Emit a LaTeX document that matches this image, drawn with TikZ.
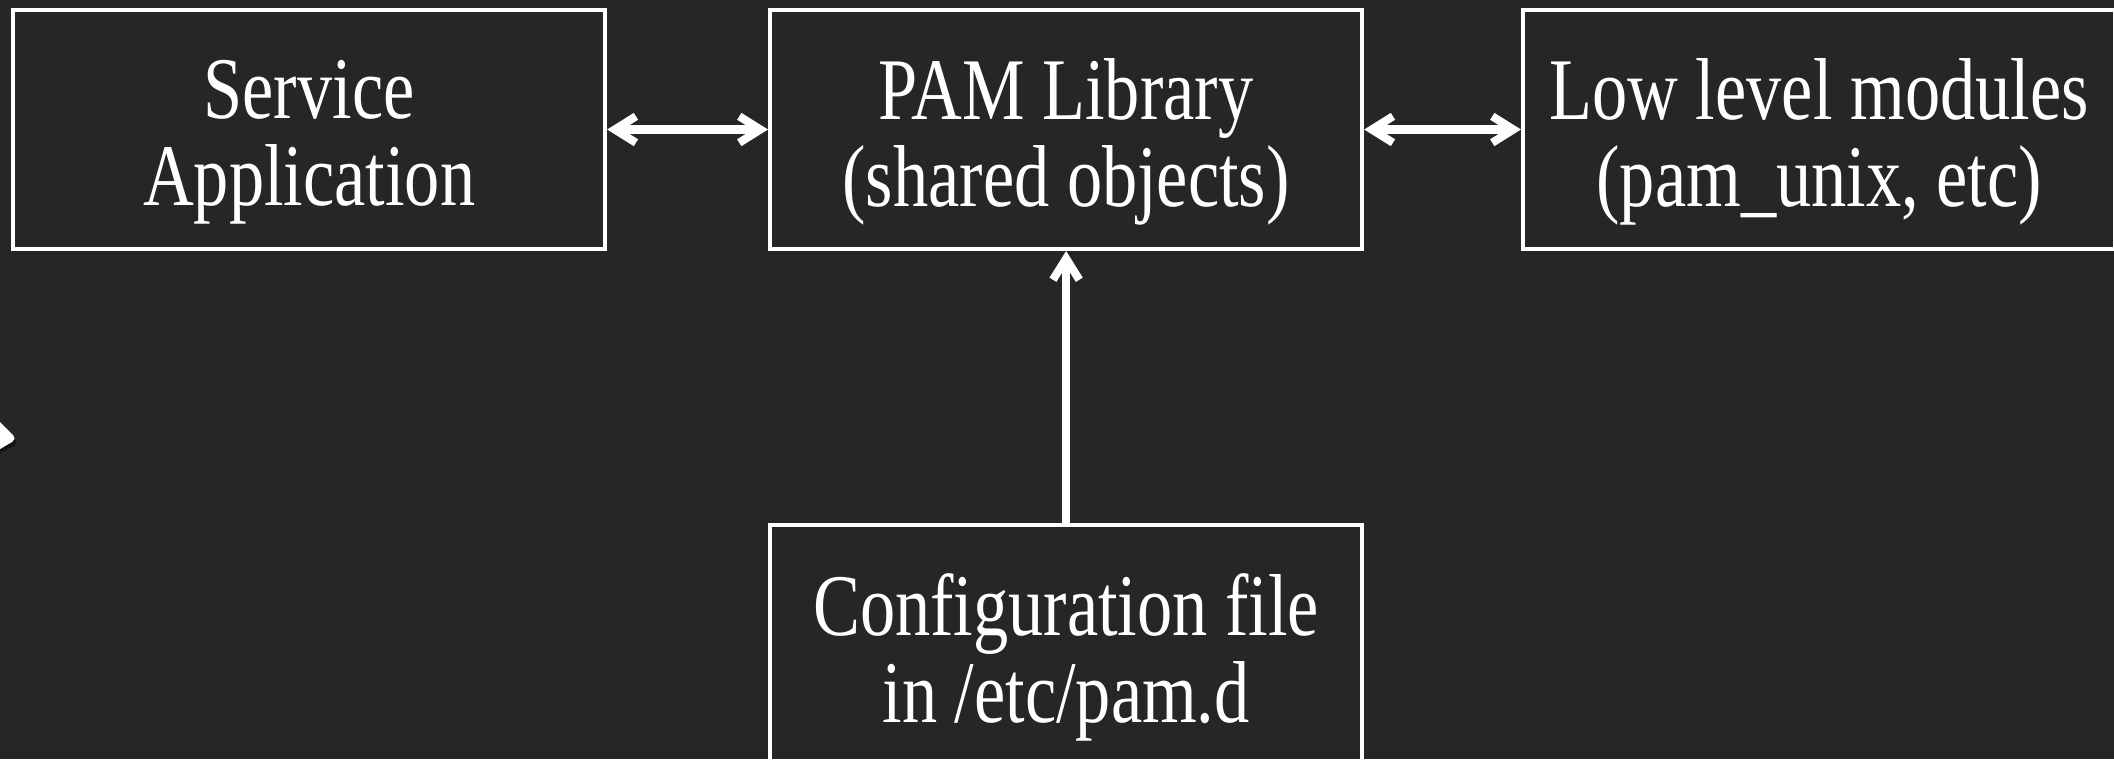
\documentclass[tikz,border=0pt]{standalone}
\usepackage{fontspec}
\setmainfont{Liberation Serif}[FakeStretch=0.8]
\usetikzlibrary{arrows.meta}
\definecolor{bg}{RGB}{38,38,38}
\begin{document}
\begin{tikzpicture}[x=0.01cm,y=-0.01cm,
  box/.style={draw=white, line width=1.1pt, minimum width=5.92cm, minimum height=2.39cm, inner sep=0pt, anchor=north west},
  lbl/.style={text=white, font=\fontsize{25}{24.75}\selectfont, align=center, inner sep=0pt},
  barb/.tip={Straight Barb[length=6pt,width=7.5pt]},
  conn/.style={draw=white, line width=2.3pt, line join=round},
]
\useasboundingbox (0,0) rectangle (2114,759);
\clip (0,0) rectangle (2114,759);
\fill[bg] (0,0) rectangle (2114,759);
% boxes
\node[box] (svc) at (11,8) {};
\node[box] (pam) at (768,8) {};
\node[box] (low) at (1521,8) {};
\node[box, minimum height=2.6cm] (cfg) at (768,523) {};
% labels
\node[lbl] (tsvc) at ([yshift=-1.34cm]svc.north) {Service\\Application};
\node[lbl] (tpam) at ([yshift=-1.34cm]pam.north) {PAM Library\\(shared objects)};
\node[lbl] (tlow) at ([yshift=-1.34cm]low.north) {Low level modules\\(pam\_unix, etc)};
\node[lbl] (tcfg) at ([yshift=-1.34cm]cfg.north) {Configuration file\\in /etc/pam.d};
% connectors
\draw[conn, barb-barb] (svc.east) -- (pam.west);
\draw[conn, barb-barb] (pam.east) -- (low.west);
\draw[conn, -barb] (cfg.north) -- (pam.south);
% stray arrow fragment at left edge
\fill[black, opacity=0.45, rounded corners=1.5pt] (-10,416) -- (19,443) -- (-10,459) -- cycle;
\fill[white, rounded corners=1.5pt] (-10,412) -- (17,439) -- (-10,455) -- cycle;
\end{tikzpicture}
\end{document}
